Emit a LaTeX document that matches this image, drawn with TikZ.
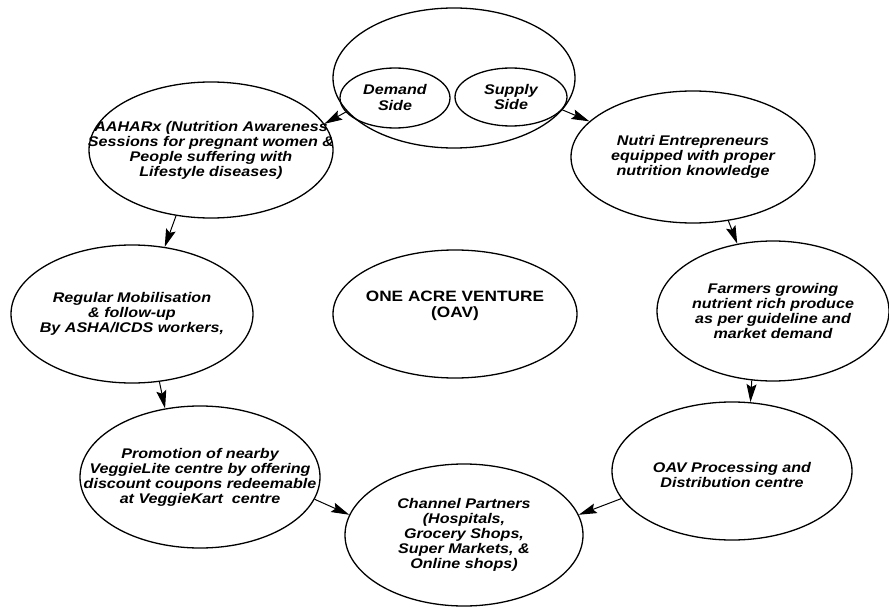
\documentclass[tikz,border=0pt]{standalone}
\usepackage{fontspec}
\setmainfont{Liberation Sans}[FakeStretch=1.15]
\usetikzlibrary{shapes.geometric, arrows.meta}

\begin{document}
\begin{tikzpicture}[
		x=1pt, y=-1pt,
		stage/.style={
			draw,
			ellipse,
			inner sep=0pt,
			line width=1.3pt
		},
		caption/.style={
			align=center,
			font=\fontsize{14}{15}\selectfont\bfseries\itshape
		},
		every edge/.style={
			draw,
			-{Stealth[length=18pt,width=10pt,inset=3pt]},
			line width=1pt
		}
		]
		\useasboundingbox (0,0) rectangle (889,607);

		% Sides
		\node[stage, minimum width=242pt, minimum height=140pt] (venture) at (454,78) {};
		\node[stage, minimum width=110pt, minimum height=60pt,
			label={[caption, font=\fontsize{14}{16}\selectfont\bfseries\itshape]center:{Demand\\Side}}]
			(demand) at (395,98) {};
		\node[stage, minimum width=112pt, minimum height=58pt,
			label={[caption, font=\fontsize{14}{16}\selectfont\bfseries\itshape]center:{Supply\\Side}}]
			(supply) at (511,97) {};

		% Demand chain
		\node[stage, minimum width=244pt, minimum height=136pt,
			label={[caption]center:{AAHARx (Nutrition Awareness\\Sessions for pregnant women \&\\People suffering with\\Lifestyle diseases)}}]
			(aahar) at (211,150) {};
		\node[stage, minimum width=242pt, minimum height=138pt,
			label={[caption]center:{Regular Mobilisation\\\& follow-up\\By ASHA/ICDS workers,}}]
			(mobilise) at (132,314) {};
		\node[stage, minimum width=240pt, minimum height=142pt,
			label={[caption]center:{Promotion of nearby\\VeggieLite centre by offering\\discount coupons redeemable\\at VeggieKart\ \ centre}}]
			(promo) at (200,477) {};

		% Supply chain
		\node[stage, minimum width=244pt, minimum height=132pt,
			label={[caption]center:{Nutri Entrepreneurs\\equipped with proper\\nutrition knowledge}}]
			(nutri) at (693,157) {};
		\node[stage, minimum width=232pt, minimum height=140pt,
			label={[caption]center:{Farmers growing\\nutrient rich produce\\as per guideline and\\market demand}}]
			(farmers) at (773,311) {};
		\node[stage, minimum width=240pt, minimum height=138pt,
			label={[caption, yshift=-4pt]center:{OAV Processing and\\Distribution centre}}]
			(process) at (732,471) {};

		% Centre and channel
		\node[stage, minimum width=244pt, minimum height=128pt,
			label={[caption, yshift=8pt, font=\fontsize{15}{16}\selectfont\bfseries]center:{ONE ACRE VENTURE\\(OAV)}}]
			(oav) at (455,314) {};
		\node[stage, minimum width=238pt, minimum height=142pt,
			label={[caption]center:{Channel Partners\\(Hospitals,\\Grocery Shops,\\Super Markets, \&\\Online shops)}}]
			(channel) at (464,535) {};

		% Flows
		\path
		(demand.196) edge (aahar.13)
		(aahar.242) edge (mobilise.64)
		(mobilise.292) edge (promo.117)
		(promo.349) edge (channel.170)
		(supply.346) edge (nutri.161)
		(nutri.299) edge (farmers.118)
		(farmers.253) edge (process.75)
		(process.194) edge (channel.10);
	\end{tikzpicture}
\end{document}
